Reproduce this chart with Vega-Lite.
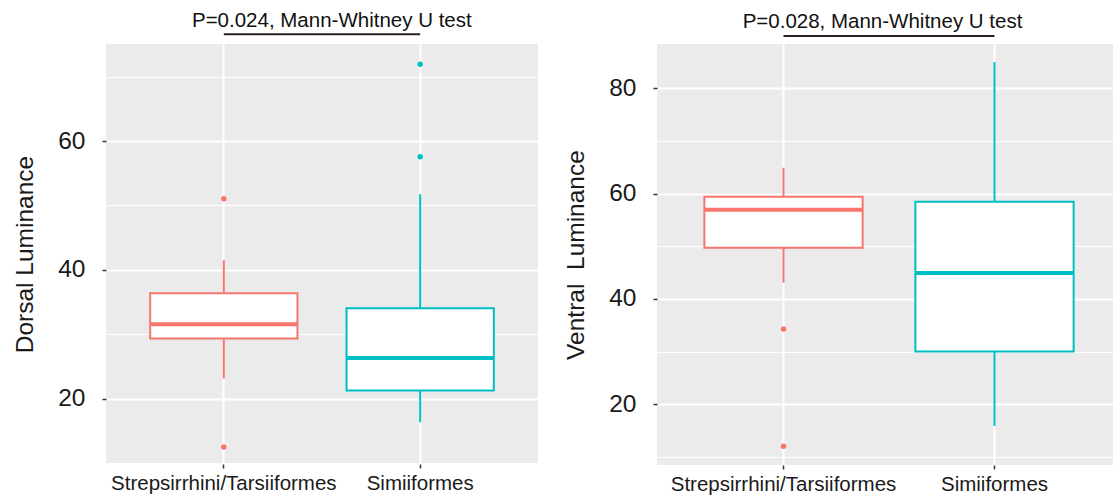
{
  "$schema": "https://vega.github.io/schema/vega-lite/v6.json",
  "background": "white",
  "padding": {"left": 12, "top": 10, "right": 0, "bottom": 0},
  "bounds": "flush",
  "spacing": 119,
  "config": {
    "font": "Liberation Sans",
    "view": {"fill": "#EBEBEB", "stroke": null},
    "axis": {"domain": false, "labelColor": "#1a1a1a", "titleColor": "#1a1a1a", "tickColor": "#333333", "tickWidth": 1.5, "tickSize": 4, "gridColor": "#FFFFFF", "labelLimit": 400}
  },
  "datasets": {
    "dorsalBox": [
      {"group": "Strepsirrhini/Tarsiiformes", "lower": 23.14, "q1": 29.34, "median": 31.55, "q3": 36.36, "upper": 41.48},
      {"group": "Simiiformes", "lower": 16.34, "q1": 21.27, "median": 26.32, "q3": 34.03, "upper": 51.73}
    ],
    "dorsalOut": [
      {"group": "Strepsirrhini/Tarsiiformes", "value": 51.04},
      {"group": "Strepsirrhini/Tarsiiformes", "value": 12.5},
      {"group": "Simiiformes", "value": 57.56},
      {"group": "Simiiformes", "value": 71.9}
    ],
    "dorsalBracket": [
      {"from": "Strepsirrhini/Tarsiiformes", "to": "Simiiformes", "y": 76.57, "ty": 77.7, "label": "P=0.024, Mann-Whitney U test"}
    ],
    "ventralBox": [
      {"group": "Strepsirrhini/Tarsiiformes", "lower": 43.08, "q1": 49.75, "median": 56.96, "q3": 59.43, "upper": 64.92},
      {"group": "Simiiformes", "lower": 15.88, "q1": 30.05, "median": 44.92, "q3": 58.46, "upper": 84.99}
    ],
    "ventralOut": [
      {"group": "Strepsirrhini/Tarsiiformes", "value": 34.29},
      {"group": "Strepsirrhini/Tarsiiformes", "value": 12.03}
    ],
    "ventralBracket": [
      {"from": "Strepsirrhini/Tarsiiformes", "to": "Simiiformes", "y": 89.93, "ty": 91.5, "label": "P=0.028, Mann-Whitney U test"}
    ]
  },
  "hconcat": [
    {
      "width": 432,
      "height": 420,
      "layer": [
        {
          "data": {"name": "dorsalBox"},
          "mark": {"type": "rule", "strokeWidth": 2},
          "encoding": {
            "x": {"field": "group", "type": "nominal", "sort": null,
                  "scale": {"domain": ["Strepsirrhini/Tarsiiformes", "Simiiformes"], "paddingInner": 0.25, "paddingOuter": 0.225, "align": 0.5},
                  "axis": {"title": null, "labelAngle": 0, "bandPosition": 0.5, "grid": true, "gridWidth": 2, "labelFontSize": 20.5, "labelPadding": 5}},
            "y": {"field": "lower", "type": "quantitative",
                  "scale": {"domain": [9.86, 75.06], "nice": false, "zero": false},
                  "axis": {"title": "Dorsal Luminance", "titleFontSize": 24.5, "titleFontWeight": "normal", "titlePadding": 20,
                           "values": [10, 20, 30, 40, 50, 60, 70],
                           "labelExpr": "datum.value % 20 === 0 ? datum.label : ''",
                           "labelFontSize": 24.5, "labelPadding": 17,
                           "gridWidth": {"condition": {"test": "datum.value % 20 === 0", "value": 2}, "value": 1},
                           "tickOpacity": {"condition": {"test": "datum.value % 20 === 0", "value": 1}, "value": 0}}},
            "y2": {"field": "upper"},
            "color": {"field": "group", "type": "nominal", "scale": {"domain": ["Strepsirrhini/Tarsiiformes", "Simiiformes"], "range": ["#F8766D", "#00BFC4"]}, "legend": null}
          }
        },
        {
          "data": {"name": "dorsalBox"},
          "mark": {"type": "bar", "fill": "white", "strokeWidth": 2},
          "encoding": {
            "x": {"field": "group", "type": "nominal", "sort": null},
            "y": {"field": "q1", "type": "quantitative"},
            "y2": {"field": "q3"},
            "stroke": {"field": "group", "type": "nominal", "scale": {"domain": ["Strepsirrhini/Tarsiiformes", "Simiiformes"], "range": ["#F8766D", "#00BFC4"]}, "legend": null}
          }
        },
        {
          "data": {"name": "dorsalBox"},
          "mark": {"type": "bar", "fill": "white", "strokeWidth": 4},
          "encoding": {
            "x": {"field": "group", "type": "nominal", "sort": null},
            "y": {"field": "median", "type": "quantitative"},
            "y2": {"field": "median"},
            "stroke": {"field": "group", "type": "nominal", "legend": null}
          }
        },
        {
          "data": {"name": "dorsalOut"},
          "mark": {"type": "point", "filled": true, "size": 30, "opacity": 1},
          "encoding": {
            "x": {"field": "group", "type": "nominal", "sort": null},
            "y": {"field": "value", "type": "quantitative"},
            "color": {"field": "group", "type": "nominal", "legend": null}
          }
        },
        {
          "data": {"name": "dorsalBracket"},
          "mark": {"type": "rule", "strokeWidth": 2, "color": "#2a1f1f"},
          "encoding": {
            "x": {"field": "from", "type": "nominal"},
            "x2": {"field": "to"},
            "y": {"field": "y", "type": "quantitative"}
          }
        },
        {
          "data": {"name": "dorsalBracket"},
          "mark": {"type": "text", "fontSize": 20.5, "color": "#111111", "align": "center", "baseline": "alphabetic", "dx": 108},
          "encoding": {
            "x": {"field": "from", "type": "nominal"},
            "y": {"field": "ty", "type": "quantitative"},
            "text": {"field": "label"}
          }
        }
      ]
    },
    {
      "width": 457,
      "height": 421,
      "layer": [
        {
          "data": {"name": "ventralBox"},
          "mark": {"type": "rule", "strokeWidth": 2},
          "encoding": {
            "x": {"field": "group", "type": "nominal", "sort": null,
                  "scale": {"domain": ["Strepsirrhini/Tarsiiformes", "Simiiformes"], "paddingInner": 0.25, "paddingOuter": 0.208, "align": 0.54},
                  "axis": {"title": null, "labelAngle": 0, "bandPosition": 0.5, "grid": true, "gridWidth": 2, "labelFontSize": 20.5, "labelPadding": 5}},
            "y": {"field": "lower", "type": "quantitative",
                  "scale": {"domain": [8.48, 88.41], "nice": false, "zero": false},
                  "axis": {"title": "Ventral\u00a0 Luminance", "titleFontSize": 24.5, "titleFontWeight": "normal", "titlePadding": 20,
                           "values": [10, 20, 30, 40, 50, 60, 70, 80],
                           "labelExpr": "datum.value % 20 === 0 ? datum.label : ''",
                           "labelFontSize": 24.5, "labelPadding": 17,
                           "gridWidth": {"condition": {"test": "datum.value % 20 === 0", "value": 2}, "value": 1},
                           "tickOpacity": {"condition": {"test": "datum.value % 20 === 0", "value": 1}, "value": 0}}},
            "y2": {"field": "upper"},
            "color": {"field": "group", "type": "nominal", "scale": {"domain": ["Strepsirrhini/Tarsiiformes", "Simiiformes"], "range": ["#F8766D", "#00BFC4"]}, "legend": null}
          }
        },
        {
          "data": {"name": "ventralBox"},
          "mark": {"type": "bar", "fill": "white", "strokeWidth": 2},
          "encoding": {
            "x": {"field": "group", "type": "nominal", "sort": null},
            "y": {"field": "q1", "type": "quantitative"},
            "y2": {"field": "q3"},
            "stroke": {"field": "group", "type": "nominal", "scale": {"domain": ["Strepsirrhini/Tarsiiformes", "Simiiformes"], "range": ["#F8766D", "#00BFC4"]}, "legend": null}
          }
        },
        {
          "data": {"name": "ventralBox"},
          "mark": {"type": "bar", "fill": "white", "strokeWidth": 4},
          "encoding": {
            "x": {"field": "group", "type": "nominal", "sort": null},
            "y": {"field": "median", "type": "quantitative"},
            "y2": {"field": "median"},
            "stroke": {"field": "group", "type": "nominal", "legend": null}
          }
        },
        {
          "data": {"name": "ventralOut"},
          "mark": {"type": "point", "filled": true, "size": 30, "opacity": 1},
          "encoding": {
            "x": {"field": "group", "type": "nominal", "sort": null},
            "y": {"field": "value", "type": "quantitative"},
            "color": {"field": "group", "type": "nominal", "legend": null}
          }
        },
        {
          "data": {"name": "ventralBracket"},
          "mark": {"type": "rule", "strokeWidth": 2, "color": "#2a1f1f"},
          "encoding": {
            "x": {"field": "from", "type": "nominal"},
            "x2": {"field": "to"},
            "y": {"field": "y", "type": "quantitative"}
          }
        },
        {
          "data": {"name": "ventralBracket"},
          "mark": {"type": "text", "fontSize": 20.5, "color": "#111111", "align": "center", "baseline": "alphabetic", "dx": 99},
          "encoding": {
            "x": {"field": "from", "type": "nominal"},
            "y": {"field": "ty", "type": "quantitative"},
            "text": {"field": "label"}
          }
        }
      ]
    }
  ]
}
